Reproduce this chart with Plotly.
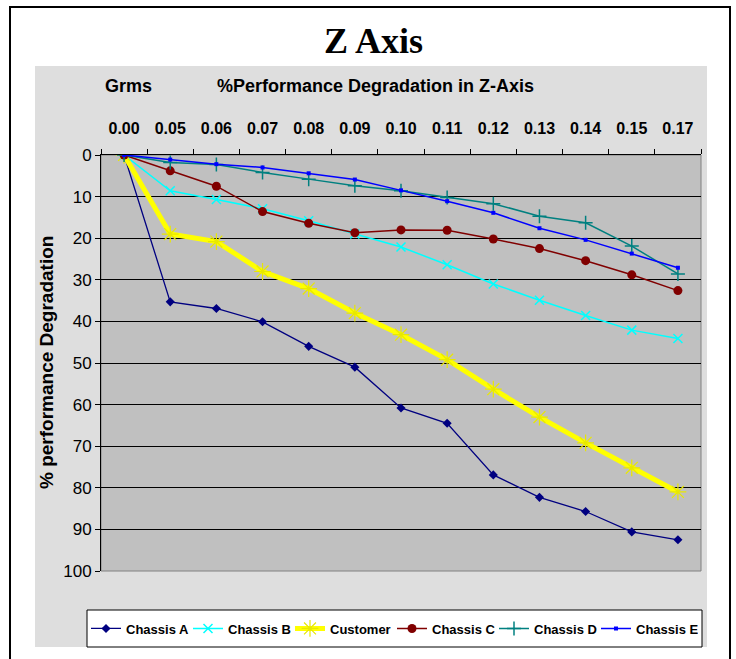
import plotly.graph_objects as go

grms = ["0.00", "0.05", "0.06", "0.07", "0.08", "0.09", "0.10", "0.11", "0.12", "0.13", "0.14", "0.15", "0.17"]

chassis_a = [0, 35.3, 36.9, 40.1, 46.0, 51.0, 60.8, 64.5, 76.9, 82.3, 85.7, 90.6, 92.5]
chassis_b = [0, 8.6, 10.7, 12.9, 15.8, 19.0, 22.1, 26.4, 31.0, 34.9, 38.6, 42.1, 44.1]
customer = [0, 19.0, 20.8, 28.0, 32.1, 38.0, 43.2, 49.2, 56.3, 63.0, 69.2, 75.2, 81.0]
chassis_c = [0, 3.8, 7.5, 13.6, 16.4, 18.7, 18.0, 18.1, 20.2, 22.5, 25.4, 28.8, 32.6]
chassis_d = [0, 1.8, 2.3, 4.2, 5.8, 7.4, 8.6, 10.2, 11.7, 14.7, 16.3, 21.9, 28.6]
chassis_e = [0, 1.1, 2.2, 3.0, 4.4, 5.9, 8.5, 11.1, 13.9, 17.6, 20.4, 23.7, 27.1]

y_ticks = list(range(0, 101, 10))

W, H = 736, 659
L, R, T, B = 101, 701, 155, 571
PW, PH = R - L, B - T


def px(x):
    return (x - L) / PW


def py(y):
    return 1 - (y - T) / PH


fig = go.Figure()

series = [
    ("Chassis A", chassis_a, "#000080", 1.3, dict(symbol="diamond", size=7, color="#000080")),
    ("Chassis B", chassis_b, "#00FFFF", 1.5, dict(symbol="x-thin", size=9, color="#00FFFF", line=dict(width=1.5, color="#00FFFF"))),
    ("Customer", customer, "#FFFF00", 5, dict(symbol="asterisk", size=14, color="#FFFF00", line=dict(width=1.2, color="#E8E800"))),
    ("Chassis C", chassis_c, "#800000", 1.5, dict(symbol="circle", size=9, color="#800000")),
    ("Chassis D", chassis_d, "#008080", 1.5, dict(symbol="cross-thin", size=10, color="#008080", line=dict(width=1.5, color="#008080"))),
    ("Chassis E", chassis_e, "#0000FF", 1.5, dict(symbol="square", size=4, color="#0000FF")),
]

for name, vals, col, lw, mk in series:
    fig.add_trace(go.Scatter(
        x=grms, y=vals, name=name, mode="lines+markers",
        line=dict(color=col, width=lw), marker=mk,
    ))

shapes = [
    # outer border
    dict(type="rect", xref="paper", yref="paper", x0=px(10), x1=px(730), y0=py(680), y1=py(7),
         line=dict(color="black", width=2), fillcolor="white", layer="below"),
    # chart area (grey)
    dict(type="rect", xref="paper", yref="paper", x0=px(35), x1=px(707), y0=py(647), y1=py(66),
         line=dict(width=0), fillcolor="#DEDEDE", layer="below"),
    # legend box
    dict(type="rect", xref="paper", yref="paper", x0=px(87), x1=px(702), y0=py(647), y1=py(610),
         line=dict(color="black", width=1), fillcolor="white", layer="below"),
    # plot area
    dict(type="rect", xref="paper", yref="paper", x0=0, x1=1, y0=0, y1=1,
         line=dict(color="#808080", width=1), fillcolor="#C0C0C0", layer="below"),
]

annotations = [
    dict(text="<b>Z Axis</b>", xref="paper", yref="paper", x=px(373), y=py(41),
         xanchor="center", yanchor="middle", showarrow=False,
         font=dict(family="Liberation Serif", size=36, color="black")),
    dict(text="<b>Grms</b>", xref="paper", yref="paper", x=px(128), y=py(86),
         xanchor="center", yanchor="middle", showarrow=False,
         font=dict(family="Liberation Sans", size=18, color="black")),
    dict(text="<b>%Performance Degradation in Z-Axis</b>", xref="paper", yref="paper", x=px(375), y=py(86),
         xanchor="center", yanchor="middle", showarrow=False,
         font=dict(family="Liberation Sans", size=18, color="black")),
    dict(text="<b>% performance Degradation</b>", xref="paper", yref="paper", x=px(46), y=py(363),
         xanchor="center", yanchor="middle", showarrow=False, textangle=-90,
         font=dict(family="Liberation Sans", size=19, color="black")),
]

fig.update_layout(
    width=W, height=H,
    margin=dict(l=L, r=W - R, t=T, b=H - B),
    paper_bgcolor="white",
    plot_bgcolor="rgba(0,0,0,0)",
    shapes=shapes,
    annotations=annotations,
    showlegend=True,
    legend=dict(
        orientation="h", x=px(86), xanchor="left", y=py(628.5), yanchor="middle",
        bgcolor="rgba(0,0,0,0)", borderwidth=0,
        font=dict(family="Liberation Sans", size=13, color="black", weight="bold"),
        itemwidth=30, tracegroupgap=0, entrywidth=57, entrywidthmode="pixels",
    ),
    font=dict(family="Liberation Sans", color="black"),
)

fig.update_xaxes(
    type="category", side="top", tickson="boundaries",
    ticks="outside", ticklen=5, tickcolor="black",
    showline=True, linecolor="black", linewidth=1,
    showgrid=False, zeroline=False,
    ticklabelstandoff=14,
    tickfont=dict(family="Liberation Sans", size=16, color="black", weight="bold"),
    range=[-0.5, len(grms) - 0.5],
)

fig.update_yaxes(
    range=[100, 0], tickvals=y_ticks, ticktext=[str(v) for v in y_ticks],
    ticks="outside", ticklen=5, tickcolor="black",
    showline=True, linecolor="black", linewidth=1,
    showgrid=True, gridcolor="black", gridwidth=1, zeroline=False,
    tickfont=dict(family="Liberation Sans", size=17, color="black"),
)

fig.write_html("out.html")
